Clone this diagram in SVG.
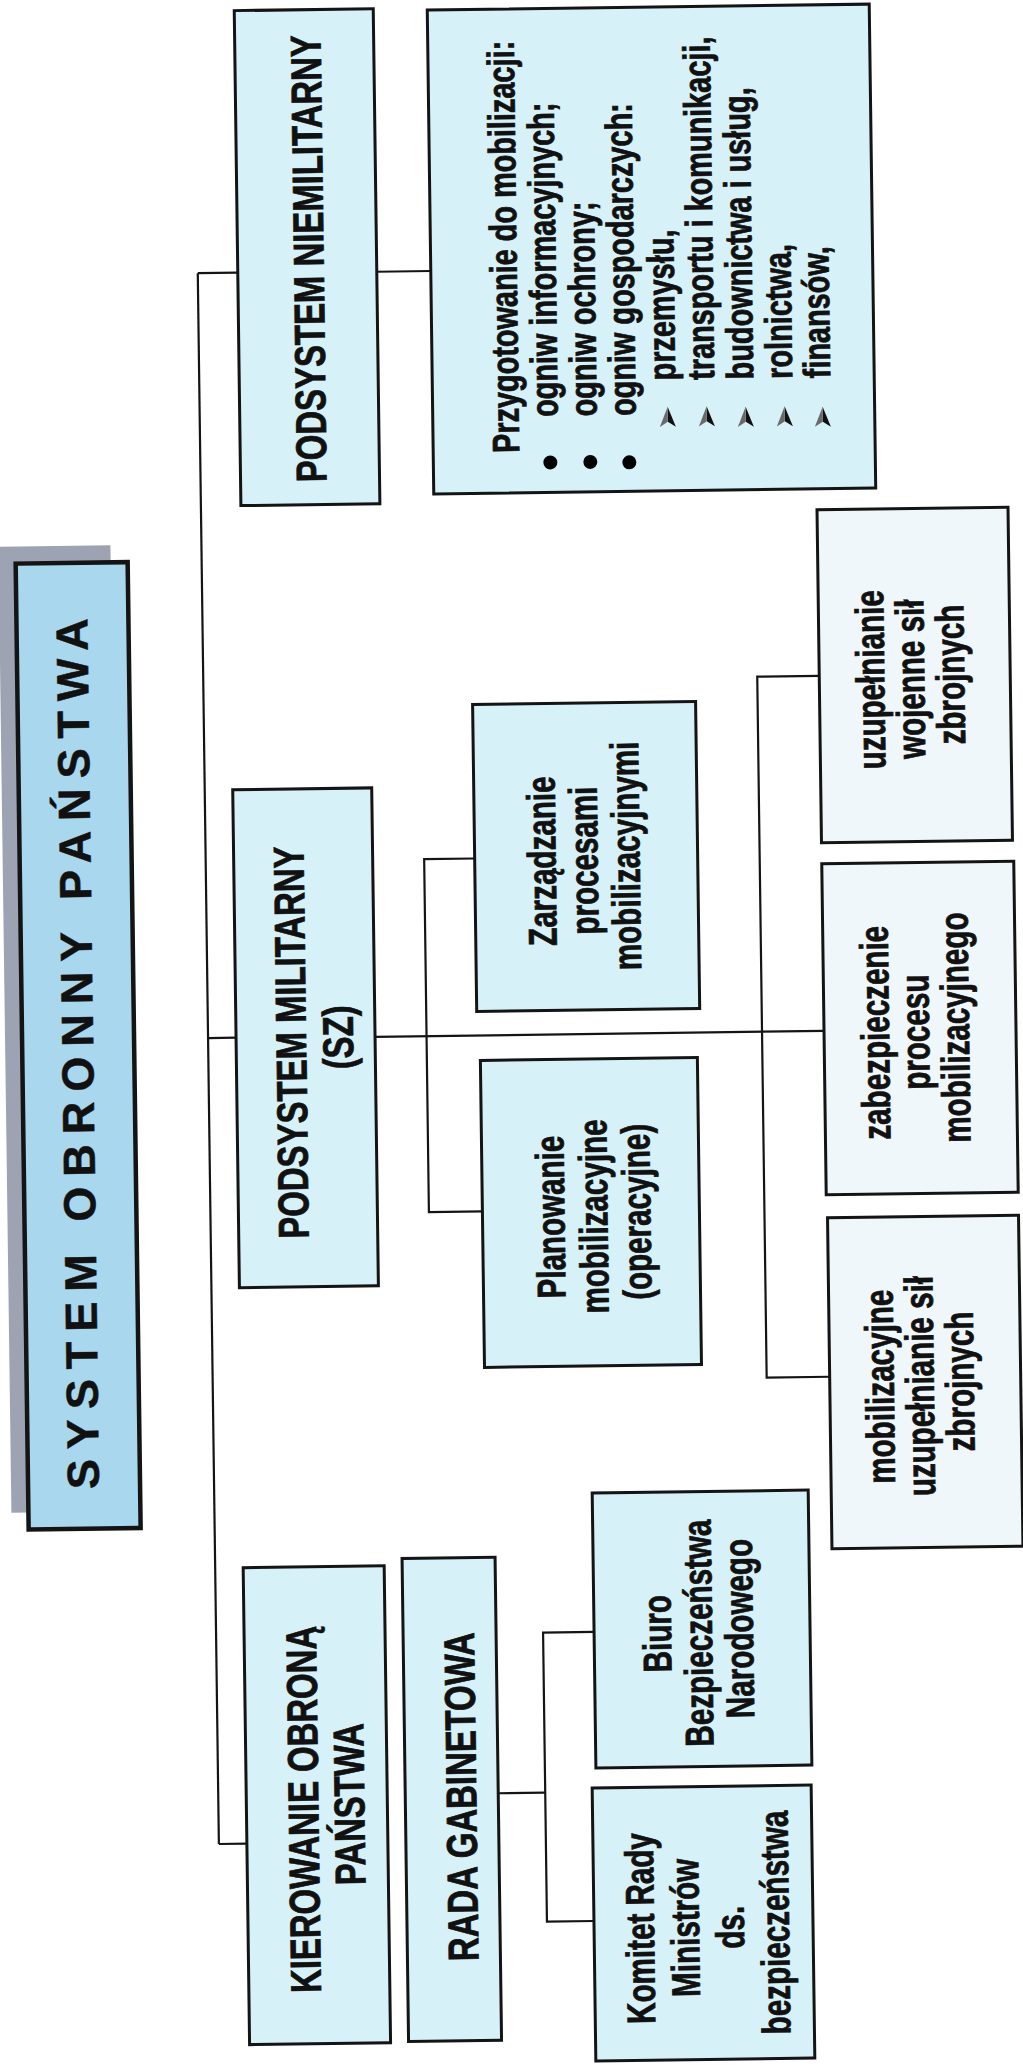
<svg xmlns="http://www.w3.org/2000/svg" width="1023" height="2065" viewBox="0 0 1023 2065">
<defs>
<style>
.box{fill:#d6f1f7;stroke:#141414;stroke-width:3}
.box2{fill:#eff7fa;stroke:#141414;stroke-width:3}
.tbox{fill:#a9d7ee;stroke:#141414;stroke-width:4.5}
.shadow{fill:#9ea3b4}
.conn{fill:none;stroke:#141414;stroke-width:2.2}
.ttl{font-family:"Liberation Sans",Arial,Helvetica,sans-serif;font-weight:bold;font-size:45px;letter-spacing:10px;fill:#111;stroke:#111;stroke-width:0.5}
.lbl{font-family:"Liberation Sans",Arial,Helvetica,sans-serif;font-weight:bold;font-size:43px;fill:#111;stroke:#111;stroke-width:0.8}
.txt{font-family:"Liberation Sans",Arial,Helvetica,sans-serif;font-weight:bold;font-size:40px;fill:#111;stroke:#111;stroke-width:0.8}
.lst{font-family:"Liberation Sans",Arial,Helvetica,sans-serif;font-weight:bold;font-size:38px;fill:#111;stroke:#111;stroke-width:0.8}
</style>
<g id="arrowhead">
<path d="M0,-11 L8,9 L0,4 Z" fill="#111"/>
<path d="M0,-11 L0,4 L-8,9 Z" fill="#6a6a6a"/>
</g>
</defs>
<rect x="0" y="0" width="1023" height="2065" fill="#ffffff"/>
<g transform="rotate(-0.77 512 1032)">
<g id="connectors">
<path class="conn" d="M208,269 V1840"/>
<path class="conn" d="M208,269 H248"/>
<path class="conn" d="M387,270 H441"/>
<path class="conn" d="M208,1034 H236"/>
<path class="conn" d="M375,1035 H824"/>
<path class="conn" d="M477,858 H426.5 V1211 H480"/>
<path class="conn" d="M824,680 H762 V1381 H825"/>
<path class="conn" d="M208,1840 H236"/>
<path class="conn" d="M488,1793 H535"/>
<path class="conn" d="M586,1633 H535 V1922 H582"/>
</g>
<g id="title">
<rect class="shadow" x="5" y="540" width="112" height="966"/>
<rect class="tbox" x="22" y="557" width="112" height="966"/>
<text class="ttl" transform="translate(0,1043) rotate(-90)" x="0" y="93" text-anchor="middle">SYSTEM OBRONNY PAŃSTWA</text>
</g>
<g id="podsystem-niemilitarny">
<rect class="box" x="248" y="7" width="139" height="495"/>
<text class="lbl" transform="translate(0,256) rotate(-90) scale(0.765,1)" x="0" y="334" text-anchor="middle">PODSYSTEM NIEMILITARNY</text>
</g>
<g id="przygotowanie">
<rect class="box" x="441" y="9" width="442" height="484"/>
<text class="lst" transform="translate(0,453) rotate(-90) scale(0.76,1)">
<tspan x="0" y="527">Przygotowanie do mobilizacji:</tspan>
<tspan x="46.7" y="566">ogniw informacyjnych;</tspan>
<tspan x="46.7" y="605">ogniw ochrony;</tspan>
<tspan x="46.7" y="644">ogniw gospodarczych:</tspan>
<tspan x="92.8" y="684">przemysłu,</tspan>
<tspan x="92.8" y="723">transportu i komunikacji,</tspan>
<tspan x="92.8" y="762">budownictwa i usług,</tspan>
<tspan x="92.8" y="801">rolnictwa,</tspan>
<tspan x="92.8" y="839">finansów,</tspan>
</text>
<circle cx="558" cy="463" r="7"/>
<circle cx="598" cy="463" r="7"/>
<circle cx="637" cy="464" r="7"/>
<use href="#arrowhead" x="676" y="420"/>
<use href="#arrowhead" x="715" y="420"/>
<use href="#arrowhead" x="754" y="421"/>
<use href="#arrowhead" x="793" y="421"/>
<use href="#arrowhead" x="831" y="422"/>
</g>
<g id="podsystem-militarny">
<rect class="box" x="236" y="786" width="139" height="498"/>
<text class="lbl" transform="translate(0,1035) rotate(-90) scale(0.765,1)" text-anchor="middle">
<tspan x="0" y="306">PODSYSTEM MILITARNY</tspan>
<tspan x="0" y="353">(SZ)</tspan>
</text>
</g>
<g id="zarzadzanie">
<rect class="box" x="477" y="704" width="223" height="307"/>
<text class="txt" transform="translate(0,857.5) rotate(-90) scale(0.74,1)" text-anchor="middle">
<tspan x="0" y="558">Zarządzanie</tspan>
<tspan x="0" y="600">procesami</tspan>
<tspan x="0" y="642">mobilizacyjnymi</tspan>
</text>
</g>
<g id="planowanie">
<rect class="box" x="480" y="1060" width="217" height="307"/>
<text class="txt" transform="translate(0,1213.5) rotate(-90) scale(0.74,1)" text-anchor="middle">
<tspan x="0" y="562">Planowanie</tspan>
<tspan x="0" y="605">mobilizacyjne</tspan>
<tspan x="0" y="648">(operacyjne)</tspan>
</text>
</g>
<g id="uzupelnianie-wojenne">
<rect class="box2" x="824" y="514" width="191" height="333"/>
<text class="txt" transform="translate(0,680.5) rotate(-90) scale(0.74,1)" text-anchor="middle">
<tspan x="0" y="889">uzupełnianie</tspan>
<tspan x="0" y="929">wojenne sił</tspan>
<tspan x="0" y="969">zbrojnych</tspan>
</text>
</g>
<g id="zabezpieczenie">
<rect class="box2" x="824" y="868" width="192" height="331"/>
<text class="txt" transform="translate(0,1033.5) rotate(-90) scale(0.74,1)" text-anchor="middle">
<tspan x="0" y="889">zabezpieczenie</tspan>
<tspan x="0" y="929">procesu</tspan>
<tspan x="0" y="969">mobilizacyjnego</tspan>
</text>
</g>
<g id="mobilizacyjne-uzupelnianie">
<rect class="box2" x="825" y="1222" width="191" height="331"/>
<text class="txt" transform="translate(0,1387.5) rotate(-90) scale(0.74,1)" text-anchor="middle">
<tspan x="0" y="889">mobilizacyjne</tspan>
<tspan x="0" y="929">uzupełnianie sił</tspan>
<tspan x="0" y="969">zbrojnych</tspan>
</text>
</g>
<g id="kierowanie">
<rect class="box" x="236" y="1564" width="141" height="477"/>
<text class="lbl" transform="translate(0,1802) rotate(-90) scale(0.765,1)" text-anchor="middle">
<tspan x="0" y="308">KIEROWANIE OBRONĄ</tspan>
<tspan x="0" y="354">PAŃSTWA</tspan>
</text>
</g>
<g id="rada-gabinetowa">
<rect class="box" x="395" y="1557" width="93" height="483"/>
<text class="lbl" transform="translate(0,1796) rotate(-90) scale(0.765,1)" x="0" y="466" text-anchor="middle">RADA GABINETOWA</text>
</g>
<g id="biuro">
<rect class="box" x="586" y="1494" width="216" height="275"/>
<text class="txt" transform="translate(0,1631.5) rotate(-90) scale(0.74,1)" text-anchor="middle">
<tspan x="0" y="663">Biuro</tspan>
<tspan x="0" y="704">Bezpieczeństwa</tspan>
<tspan x="0" y="745">Narodowego</tspan>
</text>
</g>
<g id="komitet">
<rect class="box" x="582" y="1789" width="219" height="273"/>
<text class="txt" transform="translate(0,1926) rotate(-90) scale(0.74,1)" text-anchor="middle">
<tspan x="0" y="642">Komitet Rady</tspan>
<tspan x="0" y="687">Ministrów</tspan>
<tspan x="0" y="732">ds.</tspan>
<tspan x="0" y="777">bezpieczeństwa</tspan>
</text>
</g>
</g>
</svg>
